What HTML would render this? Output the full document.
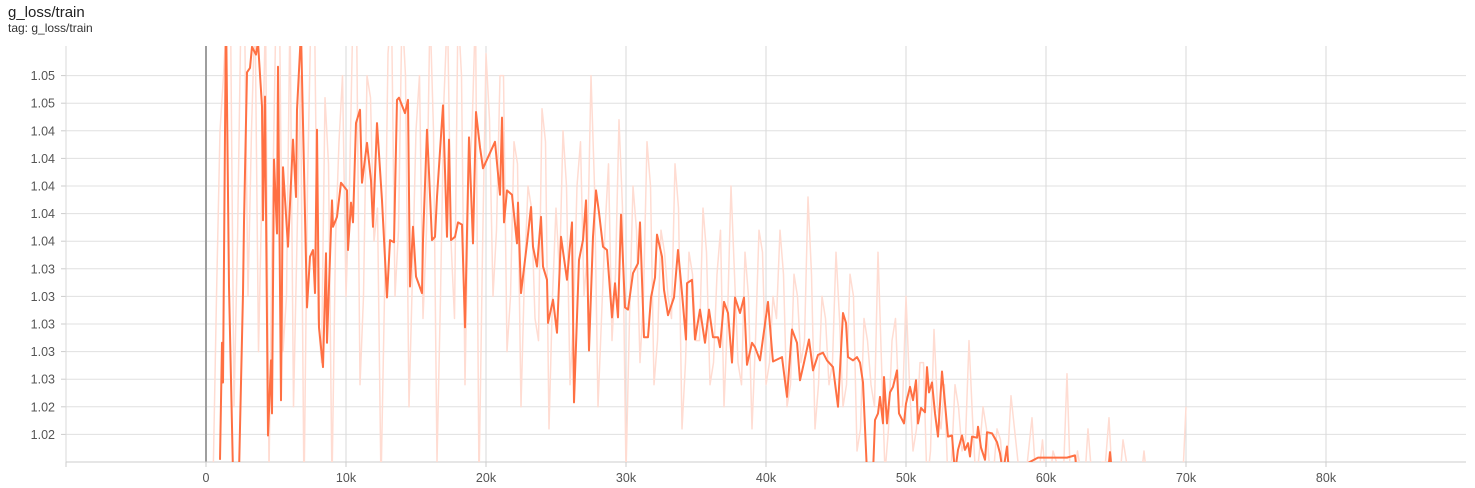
<!DOCTYPE html>
<html><head><meta charset="utf-8">
<style>
body{margin:0;background:#fff;font-family:"Liberation Sans",sans-serif;}
#wrap{position:relative;width:1475px;height:488px;overflow:hidden;}
.t1{position:absolute;left:8px;top:4px;font-size:15px;color:#212121;}
.t2{position:absolute;left:8px;top:21px;font-size:12px;color:#333;}
</style></head><body>
<div id="wrap">
<div class="t1">g_loss/train</div>
<div class="t2">tag: g_loss/train</div>
<svg id="chart" width="1475" height="488" style="position:absolute;left:0;top:0"></svg>
</div>
<script>
const yTickValues=[1.0175,1.02,1.0225,1.025,1.0275,1.03,1.0325,1.035,1.0375,1.04,1.0425,1.045,1.0475,1.05];
const yTickLabels=["1.02","1.02","1.03","1.03","1.03","1.03","1.03","1.04","1.04","1.04","1.04","1.04","1.05","1.05"];
const xTickValues=[0,10000,20000,30000,40000,50000,60000,70000,80000];
const xTickLabels=["0","10k","20k","30k","40k","50k","60k","70k","80k"];
const smoothSteps=[1000,1143,1214,1429,1643,1929,2357,2643,2714,2929,3143,3286,3571,3714,4000,4071,4214,4429,4643,4714,4857,5071,5143,5357,5500,5857,6214,6429,6500,6786,7214,7429,7643,7786,7929,8071,8357,8571,8643,9000,9071,9357,9643,10071,10143,10357,10500,10714,11000,11143,11500,11786,11929,12214,12571,12929,13143,13429,13643,13786,14214,14429,14571,14786,15000,15429,15500,15786,15929,16143,16357,16500,16929,17214,17357,17500,17786,18000,18286,18500,18786,19071,19286,19571,19786,20643,21000,21143,21286,21500,21857,22214,22286,22500,22929,23214,23357,23643,23929,24071,24357,24429,24786,25071,25357,25786,26143,26286,26643,26929,27143,27357,27643,27857,28071,28357,28643,29000,29214,29429,29643,29929,30143,30500,30857,31000,31286,31571,31786,32071,32214,32571,32714,33000,33429,33714,34000,34286,34357,34714,34929,35286,35643,35929,36214,36571,36714,37000,37286,37571,37786,38143,38429,38643,39000,39214,39571,39786,40143,40429,40500,41143,41500,41857,42214,42429,42714,43071,43357,43714,44071,44357,44786,45143,45500,45714,45857,46214,46500,46714,46929,47214,47643,47786,48000,48143,48357,48429,48643,48857,49071,49357,49500,49857,50000,50286,50500,50714,50857,51071,51357,51500,51643,51857,52071,52286,52571,52786,53000,53286,53500,53714,54000,54214,54429,54571,54714,55071,55143,55357,55643,55786,56143,56500,56714,56929,57214,57357,59429,61500,62071,62214,64429,64571,64714];
const smoothValues=[1.0152,1.0258,1.0222,1.056,1.0309,1.014,1.014,1.0303,1.0367,1.0503,1.0507,1.0526,1.0519,1.053,1.0472,1.0369,1.0481,1.0174,1.0242,1.0194,1.0424,1.0357,1.0508,1.0206,1.0417,1.0345,1.0442,1.039,1.0469,1.054,1.029,1.0336,1.0342,1.0303,1.0451,1.0272,1.0236,1.0339,1.0258,1.0387,1.0363,1.0372,1.0403,1.0396,1.0342,1.0385,1.0367,1.0457,1.0469,1.0403,1.0439,1.0405,1.0363,1.0457,1.0387,1.0299,1.0351,1.0349,1.0478,1.048,1.0466,1.0478,1.0309,1.0363,1.0318,1.0303,1.0351,1.0451,1.0412,1.0351,1.0354,1.039,1.0473,1.0354,1.0442,1.0351,1.0354,1.0367,1.0365,1.0272,1.0444,1.0348,1.0467,1.0435,1.0416,1.044,1.0392,1.0462,1.0367,1.0396,1.0392,1.0348,1.0385,1.0303,1.0348,1.0381,1.0345,1.0327,1.0372,1.0327,1.0315,1.0276,1.0297,1.0267,1.0354,1.0315,1.0367,1.0204,1.0333,1.0351,1.0387,1.0251,1.0354,1.0396,1.0376,1.0345,1.0342,1.0281,1.0312,1.0281,1.0374,1.029,1.0288,1.0321,1.033,1.0367,1.0263,1.0263,1.0299,1.0317,1.0356,1.0336,1.0306,1.0283,1.0299,1.0342,1.0303,1.0261,1.0312,1.0315,1.0261,1.0288,1.0258,1.0288,1.0263,1.0263,1.0254,1.0295,1.0285,1.024,1.0299,1.0285,1.0299,1.0238,1.0258,1.0254,1.0242,1.0262,1.0295,1.0251,1.0241,1.0245,1.0209,1.027,1.0258,1.0224,1.024,1.0261,1.0233,1.0247,1.0249,1.0242,1.0236,1.02,1.0285,1.0276,1.0245,1.0242,1.0245,1.024,1.0222,1.014,1.014,1.0188,1.0194,1.0209,1.0185,1.0227,1.0185,1.0213,1.0218,1.0233,1.0194,1.0185,1.0203,1.0218,1.0206,1.0224,1.0185,1.0199,1.0195,1.0236,1.0213,1.0222,1.0194,1.0173,1.0232,1.0203,1.0173,1.0174,1.014,1.0161,1.0174,1.0161,1.0167,1.0155,1.0173,1.0172,1.0182,1.0163,1.0152,1.0177,1.0176,1.0168,1.0158,1.014,1.0164,1.014,1.0154,1.0154,1.0156,1.014,1.014,1.0159,1.014];
const rawStepsA=[500,1000,1500,2000,2500,3000,3500,4000,4500,5000,5500,6000,6500,7000,7500,8000,8500,9000,9500,10000,10500,11000,11500,12000,12500,13000,13500,14000,14500,15000,15500,16000,16500,17000,17500,18000,18500,19000,19500,20000,20500,21000,21500,22000,22500,23000,23500,24000,24500,25000,25500,26000,26500,27000,27500,28000,28500,29000,29500,30000,30500,31000,31500,32000,32500,33000,33500,34000,34500,35000,35500,36000,36500,37000,37500,38000,38500,39000,39500,40000,40500,41000,41500,42000,42500,43000,43500,44000,44500,45000,45500,46000,46500,47000,47500,48000,48500,49000,49500,50000,50500,51000,51500,52000,52500,53000,53500,54000,54500,55000,55500,56000,56500,57000,57500,58000,58500,59000,59500,60000,60500,61000,61500,62000,62500,63000,63500,64000,64500,65000,65500,66000,66500,67000,67500,68000,68500,69000,69500,70000];
const rawValuesA=[1.013,1.045,1.056,1.020,1.056,1.030,1.056,1.040,1.014,1.056,1.025,1.056,1.035,1.012,1.056,1.028,1.048,1.013,1.044,1.030,1.056,1.022,1.050,1.035,1.013,1.052,1.030,1.056,1.020,1.045,1.028,1.056,1.015,1.048,1.035,1.056,1.022,1.045,1.013,1.052,1.030,1.050,1.025,1.044,1.020,1.040,1.028,1.047,1.018,1.038,1.045,1.022,1.040,1.030,1.050,1.020,1.036,1.026,1.046,1.014,1.040,1.024,1.044,1.022,1.036,1.030,1.042,1.018,1.034,1.026,1.038,1.022,1.032,1.020,1.040,1.024,1.034,1.018,1.036,1.022,1.030,1.036,1.020,1.032,1.024,1.039,1.018,1.030,1.022,1.034,1.020,1.032,1.016,1.028,1.022,1.034,1.014,1.026,1.020,1.030,1.016,1.024,1.013,1.027,1.018,1.013,1.022,1.016,1.026,1.013,1.020,1.014,1.018,1.013,1.021,1.015,1.013,1.019,1.014,1.013,1.016,1.013,1.023,1.013,1.014,1.018,1.013,1.015,1.019,1.013,1.017,1.013,1.013,1.016,1.013,1.013,1.013,1.013,1.013,1.020];
const rawStepsB=[250,750,1250,1750,2250,2750,3250,3750,4250,4750,5250,5750,6250,6750,7250,7750,8250,8750,9250,9750,10250,10750,11250,11750,12250,12750,13250,13750,14250,14750,15250,15750,16250,16750,17250,17750,18250,18750,19250,19750,20250,20750,21250,21750,22250,22750,23250,23750,24250,24750,25250,25750,26250,26750,27250,27750,28250,28750,29250,29750,30250,30750,31250,31750,32250,32750,33250,33750,34250,34750,35250,35750,36250,36750,37250,37750,38250,38750,39250,39750,40250,40750,41250,41750,42250,42750,43250,43750,44250,44750,45250,45750,46250,46750,47250,47750,48250,48750,49250,49750,50250,50750,51250,51750,52250,52750,53250,53750,54250,54750,55250,55750,56250,56750,57250,57750,58250,58750,59250,59750,60250,60750,61250,61750,62250,62750,63250,63750,64250,64750,65250,65750,66250,66750,67250,67750,68250,68750,69250,69750];
const rawValuesB=[1.013,1.030,1.050,1.056,1.035,1.056,1.045,1.025,1.056,1.038,1.056,1.030,1.020,1.050,1.040,1.056,1.024,1.042,1.035,1.050,1.040,1.056,1.030,1.048,1.038,1.030,1.056,1.036,1.050,1.032,1.050,1.036,1.045,1.030,1.056,1.028,1.050,1.040,1.056,1.034,1.046,1.036,1.050,1.030,1.042,1.032,1.038,1.026,1.044,1.030,1.032,1.040,1.028,1.044,1.034,1.040,1.028,1.042,1.032,1.038,1.028,1.036,1.030,1.040,1.026,1.034,1.028,1.038,1.024,1.032,1.026,1.034,1.024,1.036,1.028,1.032,1.022,1.030,1.026,1.034,1.024,1.028,1.032,1.022,1.030,1.026,1.032,1.022,1.028,1.024,1.028,1.022,1.030,1.018,1.026,1.020,1.024,1.018,1.028,1.020,1.022,1.018,1.024,1.016,1.020,1.022,1.015,1.020,1.017,1.019,1.016,1.018,1.014,1.017,1.015,1.018,1.013,1.016,1.014,1.017,1.013,1.015,1.014,1.013,1.016,1.013,1.014,1.013,1.015,1.013,1.013,1.015,1.013,1.013,1.013,1.013,1.013,1.013,1.013,1.013];

const NS="http://www.w3.org/2000/svg";
const svg=document.getElementById('chart');
const L=66,R=1466,T=46,B=462;
function xs(s){return 206+(s/10000)*140;}
function ys(v){return B-(v-1.015)/0.0025*27.6;}
function mk(tag,attrs,parent){const e=document.createElementNS(NS,tag);for(const k in attrs)e.setAttribute(k,attrs[k]);(parent||svg).appendChild(e);return e;}

const grid=mk('g',{});


yTickValues.forEach((v,i)=>{
  const y=ys(v);
  const ln=mk('line',{x1:L,x2:R,y1:y,y2:y,stroke:'#e0e0e0','stroke-width':1},grid);
  
  
  mk('line',{x1:L-5,x2:L,y1:y,y2:y,stroke:'#ccc'},grid);
  const t=mk('text',{x:L-11,y:y+4.5,'text-anchor':'end','font-size':'12.5','fill':'#555','font-family':'Liberation Sans, sans-serif'});
  t.textContent=yTickLabels[i];
  
  
});
[-10000].concat(xTickValues).forEach(s=>{
  const x=xs(s);
  const ln=mk('line',{x1:x,x2:x,y1:T,y2:B,stroke:s===0?'#9e9e9e':'#dadada','stroke-width':s===0?2:1},grid);
  
  
  mk('line',{x1:x,x2:x,y1:B,y2:B+5,stroke:'#ccc'},grid);
});
mk('line',{x1:L,x2:R,y1:B,y2:B,stroke:'#ccc'},grid);
xTickValues.forEach((s,i)=>{
  const t=mk('text',{x:xs(s),y:482,'text-anchor':'middle','font-size':'12.5','fill':'#555','font-family':'Liberation Sans, sans-serif'});
  t.textContent=xTickLabels[i];
  
  
});
mk('defs',{}).innerHTML='<clipPath id="cp"><rect x="'+L+'" y="'+T+'" width="'+(R-L)+'" height="'+(B-T)+'"/></clipPath>';
const plot=mk('g',{'clip-path':'url(#cp)'});


const rawPts=rawStepsA.map((s,i)=>[s,rawValuesA[i]]).concat(rawStepsB.map((s,i)=>[s,rawValuesB[i]])).sort((a,b)=>a[0]-b[0]);
const rawPath=mk('path',{d:rawPts.map((p,i)=>(i?'L':'M')+xs(p[0]).toFixed(1)+','+ys(p[1]).toFixed(1)).join(''),fill:'none',stroke:'#ffdcd2','stroke-width':1.5,'stroke-linejoin':'round'},plot);


const smPath=mk('path',{d:smoothSteps.map((s,i)=>(i?'L':'M')+xs(s).toFixed(1)+','+ys(smoothValues[i]).toFixed(1)).join(''),fill:'none',stroke:'#ff7043','stroke-width':2,'stroke-linejoin':'round'},plot);


</script>
</body></html>
